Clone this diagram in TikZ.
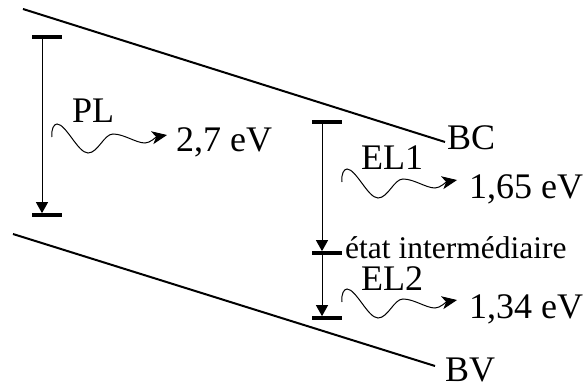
\documentclass[tikz,border=0pt]{standalone}
\usepackage{fontspec}
\setmainfont{Liberation Serif}
\usetikzlibrary{arrows.meta}
\begin{document}
\begin{tikzpicture}[x=1pt,y=-1pt,
  band/.style={line width=2pt},
  level/.style={draw=none, fill=black, minimum width=30pt, minimum height=3.3pt, inner sep=0pt},
  trans/.style={line width=1pt, -{Triangle[length=11pt,width=12pt]}},
  lab/.style={anchor=base west, inner sep=0pt, font=\fontsize{36}{40}\selectfont},
  small/.style={anchor=base west, inner sep=0pt, font=\fontsize{31.5}{36}\selectfont},
  photon/.style={line width=1pt, -{Stealth[length=15pt,width=13pt,inset=4pt]}},
  wave/.pic={\draw[photon] (0,0) .. controls (-1,-8) and (2,-13) .. (5,-13)
     .. controls (14,-13) and (26,16) .. (36,16)
     .. controls (46,16) and (52,-3) .. (61,-3)
     .. controls (72,-3) and (84,6) .. (93,6)
     .. controls (98,6) and (104,0) .. (115,-2);}
]
\useasboundingbox (0,0) rectangle (585,387);
% bands
\coordinate (bc1) at (23,9);
\coordinate (bc2) at (445,142);
\coordinate (bv1) at (13,234);
\coordinate (bv2) at (435,366);
\draw[band] (bc1) -- (bc2);
\draw[band] (bv1) -- (bv2);
\node[lab] (bc) at (447,150) {BC};
\node[lab] (bv) at (445,381) {BV};
% levels
\node[level] (pl1) at (47,37) {};
\node[level] (pl2) at (47,215) {};
\node[level] (el1) at (327,122) {};
\node[level] (mid) at (327,253) {};
\node[level] (el2) at (327,318) {};
\draw[trans] ([xshift=-5pt]pl1.south) -- ([xshift=-5pt]pl2.north);
\draw[trans] ([xshift=-5pt]el1.south) -- ([xshift=-5pt]mid.north);
\draw[trans] ([xshift=-5pt]mid.south) -- ([xshift=-5pt]el2.north);
% labels
\node[lab] (pl) at (72,123) {PL};
\node[lab] (e27) at (176,152) {2,7 eV};
\node[lab] (l1) at (361,170) {EL1};
\node[lab] (e165) at (469,199) {1,65 eV};
\node[small] (etat) at (345,258) {état intermédiaire};
\node[lab] (l2) at (361,290) {EL2};
\node[lab] (e134) at (469,318) {1,34 eV};
% photons
\pic at (52,137) {wave};
\pic at (342,182) {wave};
\pic at (342,302) {wave};
\end{tikzpicture}
\end{document}
